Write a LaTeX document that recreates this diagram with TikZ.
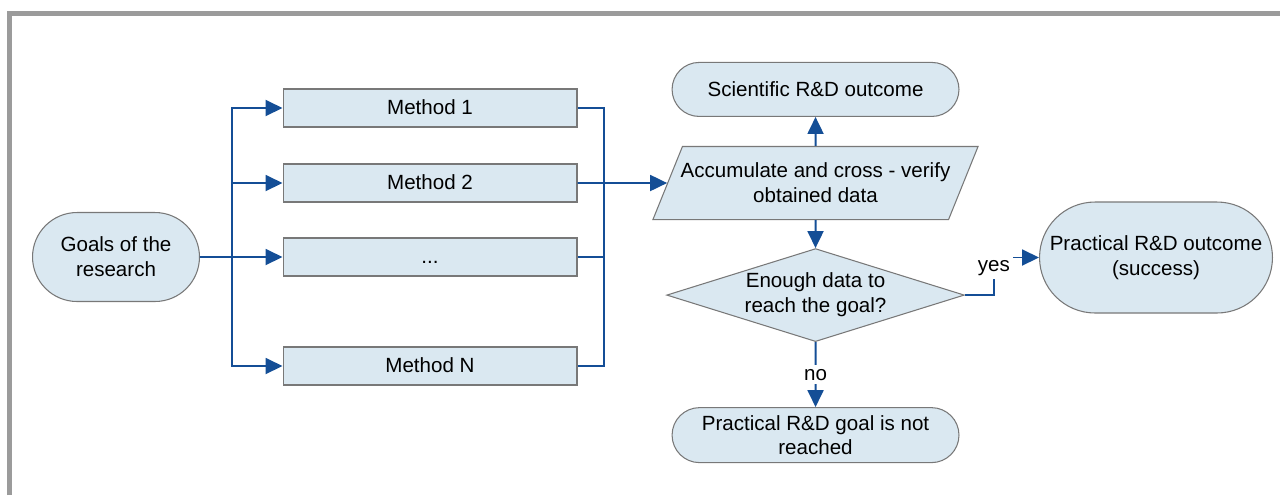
\documentclass[tikz,border=0pt]{standalone}
\usepackage{fontspec}
\setmainfont{Liberation Sans}
\usepackage{tikz}
\usetikzlibrary{arrows.meta, positioning, shapes.geometric, shapes.misc}

\definecolor{boxfill}{RGB}{218,232,241}
\definecolor{boxline}{RGB}{120,120,120}
\definecolor{flow}{RGB}{20,78,150}
\definecolor{framegray}{RGB}{155,155,155}

\begin{document}
\begin{tikzpicture}[
    x=0.02cm, y=-0.02cm,
    every node/.style={font=\fontsize{11.7}{14.2}\selectfont},
    terminal/.style={rounded rectangle, draw=boxline, line width=0.6pt, fill=boxfill, align=center, inner sep=2pt},
    method/.style={rectangle, draw=boxline, line width=0.6pt, fill=boxfill, minimum width=5.88cm, minimum height=0.76cm, text height=1.6ex, text depth=0.3ex},
    io/.style={trapezium, trapezium left angle=68, trapezium right angle=112, draw=boxline, line width=0.6pt, fill=boxfill, align=center, inner xsep=-1pt, inner ysep=0.33cm},
    decision/.style={diamond, aspect=3.2, draw=boxline, line width=0.6pt, fill=boxfill, align=center, inner sep=1pt, minimum width=5.86cm, minimum height=1.82cm},
    line/.style={draw=flow, line width=1.1pt, -{Triangle[length=0.34cm, width=0.32cm]}},
    wire/.style={draw=flow, line width=1.1pt},
    answer/.style={fill=white, inner sep=2pt},
    frame/.style={draw=framegray, line width=0.1cm}
]
    \useasboundingbox (0,0) rectangle (1280,495);
    \draw[frame] (9.5,495) -- (9.5,13.5) -- (1280,13.5);

    % start and the parallel methods
    \node[terminal, minimum width=3.48cm, minimum height=1.78cm] (goals) at (116,257) {Goals of the\\research};
    \node[method] (m1) at (430,108) {Method 1};
    \node[method] (m2) at (430,183) {Method 2};
    \node[method] (dots) at (430,257) {...};
    \node[method] (mN) at (430,366) {Method N};

    % collecting the results
    \node[io] (accum) at (815.5,183) {Accumulate and cross - verify\\obtained data};
    \node[terminal, minimum width=5.88cm, minimum height=1.08cm, above=0.58cm of accum] (sci) {Scientific R\&D outcome};
    \node[decision, below=0.56cm of accum] (check) {Enough data to\\reach the goal?};
    \node[terminal, minimum width=5.88cm, minimum height=1.1cm, below=1.3cm of check] (fail) {Practical R\&D goal is not\\reached};
    \node[terminal, minimum width=4.8cm, minimum height=2.22cm] (success) at (1156,257.5) {Practical R\&D outcome\\(success)};

    % Connectors
    \coordinate (fork) at (232,257);
    \coordinate (merge) at (604,183);
    \draw[line] (goals) -- (dots);
    \draw[line] (fork) |- (m1);
    \draw[line] (fork) |- (m2);
    \draw[line] (fork) |- (mN);
    \draw[wire] (m1) -| (merge);
    \draw[wire] (dots) -| (merge);
    \draw[wire] (mN) -| (merge);
    \draw[line] (m2) -- (accum);
    \draw[line] (accum) -- (sci);
    \draw[line] (accum) -- (check);
    \draw[line] (check.east) -- ++(29,0) |- node[pos=0.5, answer, anchor=north, yshift=1pt] {yes} (success.west);
    \draw[line] (check) -- node[answer] {no} (fail);
\end{tikzpicture}
\end{document}
